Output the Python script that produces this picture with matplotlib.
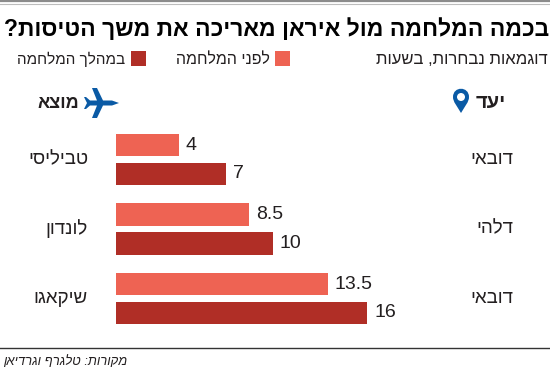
import matplotlib.pyplot as plt
from matplotlib.patches import Rectangle, PathPatch, Circle
from matplotlib.path import Path

# hebrew is drawn in visual order, matplotlib has no bidi
def rtl(s):
	return s[::-1]

origins = ["טביליסי", "לונדון", "שיקאגו"]
destinations = ["דובאי", "דלהי", "דובאי"]
before_war = [4, 8.5, 13.5]
during_war = [7, 10, 16]
before_labels = ["4", "8.5", "13.5"]
during_labels = ["7", "10", "16"]

title = "בכמה המלחמה מול איראן מאריכה את משך הטיסות?"
subtitle = "דוגמאות נבחרות, בשעות"
legend_before = "לפני המלחמה"
legend_during = "במהלך המלחמה"
head_origin = "מוצא"
head_dest = "יעד"
source = "מקורות: טלגרף וגרדיאן"

LIGHT = "#ee6353"
DARK = "#b02e26"
BLUE = "#0a5aa5"
INK = "#231f20"

plt.rcParams['font.family'] = ['Liberation Sans', 'DejaVu Sans']

fig = plt.figure(figsize=(5.5, 3.7), dpi=100)

# overlay in pixel coordinates for text and decoration
over = fig.add_axes([0, 0, 1, 1])
over.set_xlim(0, 550)
over.set_ylim(370, 0)
over.axis("off")

# bars get their own axes, 0 hours at x=116px
ax = fig.add_axes([116/550, 1 - 330/370, 300/550, 200/370])
ax.set_xlim(0, 300/15.7)
ax.set_ylim((330 - 159.5)/69.5, (130 - 159.5)/69.5)
ax.axis("off")

ys = list(range(len(origins)))
ax.barh([y - 0.207 for y in ys], before_war, height=0.327, color=LIGHT)
ax.barh([y + 0.207 for y in ys], during_war, height=0.327, color=DARK)
for y, a, b, la, lb in zip(ys, before_war, during_war, before_labels, during_labels):
	ax.annotate(la, (a, y - 0.207), xytext=(5, 0), textcoords="offset points",
		va="center", fontsize=14, color=INK)
	ax.annotate(lb, (b, y + 0.207), xytext=(5, 0), textcoords="offset points",
		va="center", fontsize=14, color=INK)

# row labels
row_y = [159.5, 229, 298.5]
for yy, o, d in zip(row_y, origins, destinations):
	over.text(88, yy, rtl(o), ha="right", va="center", fontsize=13.5, color=INK)
	over.text(513, yy, rtl(d), ha="right", va="center", fontsize=13.5, color=INK)

# header
over.text(549, 30, rtl(title), ha="right", va="center", fontsize=16.5, fontweight="bold", color="black")
over.text(548, 59, rtl(subtitle), ha="right", va="center", fontsize=12, color=INK)
over.text(270, 59, rtl(legend_before), ha="right", va="center", fontsize=11.5, color=INK)
over.text(125, 59, rtl(legend_during), ha="right", va="center", fontsize=11, color=INK)
over.add_patch(Rectangle((275, 51), 15, 15, color=LIGHT, lw=0))
over.add_patch(Rectangle((131, 51), 15, 15, color=DARK, lw=0))

over.text(79, 103, rtl(head_origin), ha="right", va="center", fontsize=13, fontweight="bold", color=INK)
over.text(506, 103, rtl(head_dest), ha="right", va="center", fontsize=14.5, fontweight="bold", color=INK)

# plane icon
plane = [(119, 103), (112, 100.5), (103, 100.5), (97, 88), (92, 88), (97, 100.5), (90, 100.5),
	(86, 97), (84, 97), (87, 103), (84, 109), (86, 109), (90, 105.5), (97, 105.5), (92, 118),
	(97, 118), (103, 105.5), (112, 105.5), (119, 103)]
over.add_patch(PathPatch(Path(plane), fc=BLUE, lw=0))

# location pin
pin = Path([(461, 113), (457, 106), (453, 102), (453, 97), (453, 86), (469, 86), (469, 97),
	(469, 102), (465, 106), (461, 113)],
	[Path.MOVETO] + [Path.CURVE4]*9)
over.add_patch(PathPatch(pin, fc=BLUE, lw=0))
over.add_patch(Circle((461, 97), 4, fc="white", lw=0))

# rules and source
over.plot([0, 550], [1, 1], color="#8c8c8c", lw=1.6)
over.plot([0, 550], [3.5, 3.5], color="#bdbdbd", lw=0.8)
over.plot([0, 550], [348, 348], color="#333333", lw=1)
over.text(3, 362, rtl(source), ha="left", va="center", fontsize=9.4, style="italic", color=INK)

plt.savefig("out.png", dpi=100)
